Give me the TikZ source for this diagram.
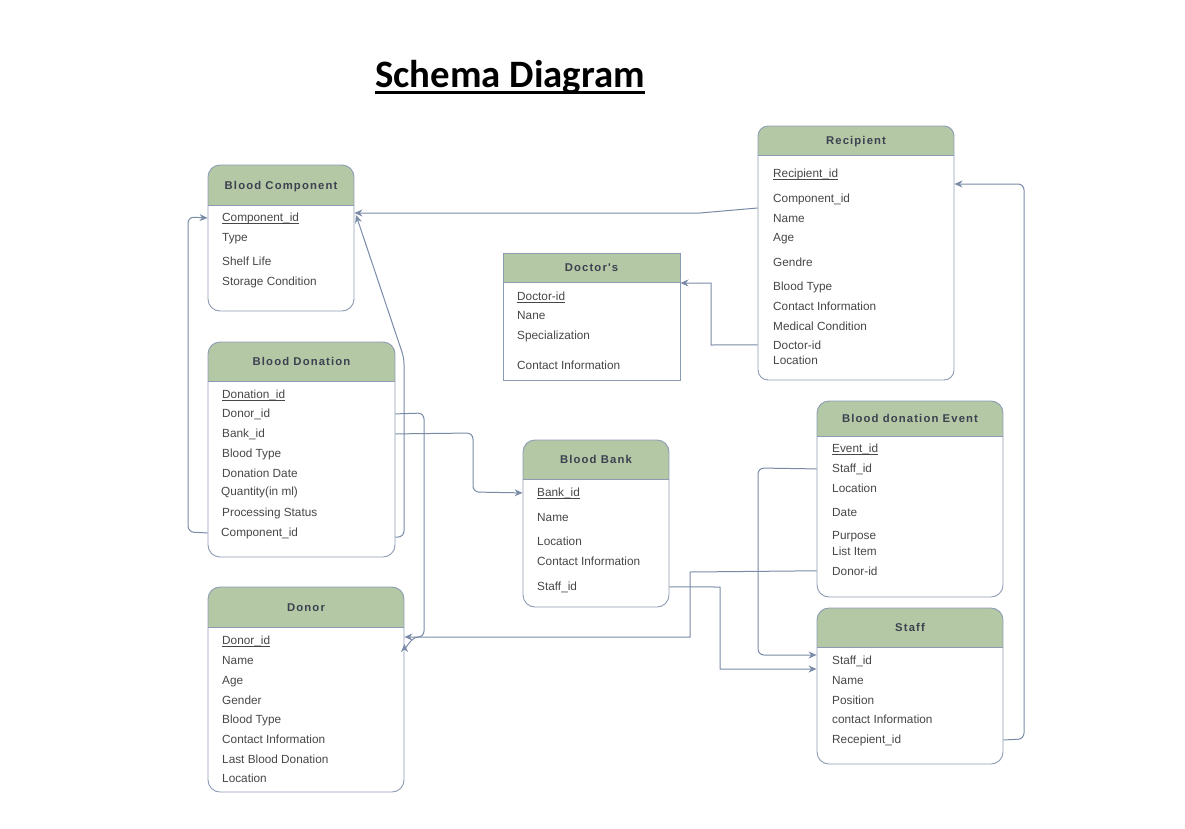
\documentclass[tikz,border=0pt]{standalone}
\usepackage{fontspec}
\setmainfont{Liberation Sans}
\newfontfamily\titlefont{Carlito}
\newfontfamily\hdfont[LetterSpace=10]{Liberation Sans}
\usetikzlibrary{arrows.meta,fit}
\definecolor{hdrgreen}{HTML}{B4C8A5}
\definecolor{boxc}{HTML}{8C9BB4}
\definecolor{connc}{HTML}{7A8BA8}
\definecolor{rowc}{HTML}{474747}
\definecolor{hdc}{HTML}{3C4150}
\tikzset{
  row/.style={anchor=base west, inner sep=0pt, font=\fontsize{11.8}{13}\selectfont, text=rowc},
  hdr/.style={anchor=base, inner sep=0pt, font=\hdfont\bfseries\fontsize{11.3}{13}\selectfont, text=hdc},
  conn/.style={draw=connc, line width=1pt},
  rc/.style={rounded corners=6pt},
  arr/.style={-{Stealth[length=8pt,width=7pt]}},
}
\newcommand\erbox[8]{%
  \begin{scope}
    \clip[#7] (#2,#3) rectangle (#4,#6);
    \fill[hdrgreen] (#2,#3) rectangle (#4,#5);
  \end{scope}
  \node[fit={(#2,#3) (#4,#6)}, inner sep=0pt, draw=boxc, line width=0.9pt, #7] (#1) {};
  \draw[boxc, line width=0.9pt] (#2,#5) -- (#4,#5);
  \node[hdr] (#1h) at ({(#2+#4)/2},{(#3+#5)/2+4}) {#8};
}
\newcommand\fld[4]{\node[row] (#1) at (#2,#3+4) {#4};}
\newcommand\kfld[4]{\fld{#1}{#2}{#3}{#4}\draw[rowc,line width=0.6pt] ([yshift=-2pt]#1.base west) -- ([yshift=-2pt]#1.base east);}
\begin{document}
\begin{tikzpicture}[x=1pt,y=-1pt]
\useasboundingbox (0,0) rectangle (1185,828);
\fill[white] (0,0) rectangle (1185,828);
% title
\node[anchor=base west, inner sep=0pt, font=\titlefont\bfseries\fontsize{38.8}{40}\selectfont] (title) at (375,87) {Schema Diagram};
\draw[line width=2.5pt] ([yshift=-5.5pt]title.base west) -- ([yshift=-5.5pt]title.base east);

% Blood Component
\erbox{bc}{208}{165}{354}{205}{311}{rounded corners=12pt}{Blood Component}
\kfld{bc1}{222}{217}{Component\_id}
\fld{bc2}{222}{237}{Type}
\fld{bc3}{222}{261}{Shelf Life}
\fld{bc4}{222}{281}{Storage Condition}

% Blood Donation
\erbox{bd}{208}{342}{395}{381}{557}{rounded corners=12pt}{Blood Donation}
\kfld{bd1}{222}{394}{Donation\_id}
\fld{bd2}{222}{413}{Donor\_id}
\fld{bd3}{222}{433}{Bank\_id}
\fld{bd4}{222}{453}{Blood Type}
\fld{bd5}{222}{473}{Donation Date}
\fld{bd6}{221}{491}{Quantity(in ml)}
\fld{bd7}{222}{512}{Processing Status}
\fld{bd8}{221}{532}{Component\_id}

% Donor
\erbox{dn}{208}{587}{404}{627}{792}{rounded corners=12pt}{Donor}
\kfld{dn1}{222}{640}{Donor\_id}
\fld{dn2}{222}{660}{Name}
\fld{dn3}{222}{680}{Age}
\fld{dn4}{222}{700}{Gender}
\fld{dn5}{222}{719}{Blood Type}
\fld{dn6}{222}{739}{Contact Information}
\fld{dn7}{222}{759}{Last Blood Donation}
\fld{dn8}{222}{778}{Location}

% Doctor's
\erbox{doc}{503}{253}{680}{282}{380}{sharp corners}{Doctor's}
\kfld{doc1}{517}{296}{Doctor-id}
\fld{doc2}{517}{315}{Nane}
\fld{doc3}{517}{335}{Specialization}
\fld{doc4}{517}{365}{Contact Information}

% Recipient
\erbox{rec}{758}{126}{954}{155}{380}{rounded corners=10pt}{Recipient}
\kfld{rec1}{773}{173}{Recipient\_id}
\fld{rec2}{773}{198}{Component\_id}
\fld{rec3}{773}{218}{Name}
\fld{rec4}{773}{237}{Age}
\fld{rec5}{773}{262}{Gendre}
\fld{rec6}{773}{286}{Blood Type}
\fld{rec7}{773}{306}{Contact Information}
\fld{rec8}{773}{326}{Medical Condition}
\fld{rec9}{773}{345}{Doctor-id}
\fld{rec10}{773}{360}{Location}

% Blood Bank
\erbox{bb}{523}{440}{669}{479}{607}{rounded corners=12pt}{Blood Bank}
\kfld{bb1}{537}{492}{Bank\_id}
\fld{bb2}{537}{517}{Name}
\fld{bb3}{537}{541}{Location}
\fld{bb4}{537}{561}{Contact Information}
\fld{bb5}{537}{586}{Staff\_id}

% Blood donation Event
\erbox{ev}{817}{401}{1003}{436}{597}{rounded corners=12pt}{Blood donation Event}
\kfld{ev1}{832}{448}{Event\_id}
\fld{ev2}{832}{468}{Staff\_id}
\fld{ev3}{832}{488}{Location}
\fld{ev4}{832}{512}{Date}
\fld{ev5}{832}{535}{Purpose}
\fld{ev6}{832}{551}{List Item}
\fld{ev7}{832}{571}{Donor-id}

% Staff
\erbox{st}{817}{608}{1003}{647}{764}{rounded corners=12pt}{Staff}
\fld{st1}{832}{660}{Staff\_id}
\fld{st2}{832}{680}{Name}
\fld{st3}{832}{700}{Position}
\fld{st4}{832}{719}{contact Information}
\fld{st5}{832}{739}{Recepient\_id}

% connectors
\draw[conn,arr] (rec.west |- 0,208) -- (700,213) -- (bc.east |- 0,213);
\draw[conn,arr,rc] (bd.east |- 0,537) -- (404,537) -- (404,358) -- (356,215);
\draw[conn,arr,rc] (bd.west |- bd8.center) -- (188,532) -- (188,217) -- (bc.west |- bc1.center);
\draw[conn,arr,rc] (bd.east |- bd2.center) -- (424,413) -- (424,637) -- (dn.east |- 0,637);
\draw[conn,arr,rc] (bd.east |- bd3.center) -- (473,433) -- (473,492) -- (bb.west |- bb1.center);
\draw[conn,arr] (bb.east |- bb5.center) -- (720,587) -- (720,669) -- (st.west |- 0,669);
\draw[conn,arr] (ev.west |- ev7.center) -- (690,572) -- (690,637) -- (418,637) to[out=180,in=-90,looseness=1.2] (dn.east |- 0,644);
\draw[conn,arr,rc] (ev.west |- ev2.center) -- (758,468) -- (758,655) -- (st.west |- 0,655);
\draw[conn,arr,rc] (st.east |- st5.center) -- (1024,739) -- (1024,184) -- (rec.east |- 0,184);
\draw[conn,arr] (rec.west |- rec9.center) -- (711,345) -- (711,283) -- (doc.east |- 0,283);
\end{tikzpicture}
\end{document}
